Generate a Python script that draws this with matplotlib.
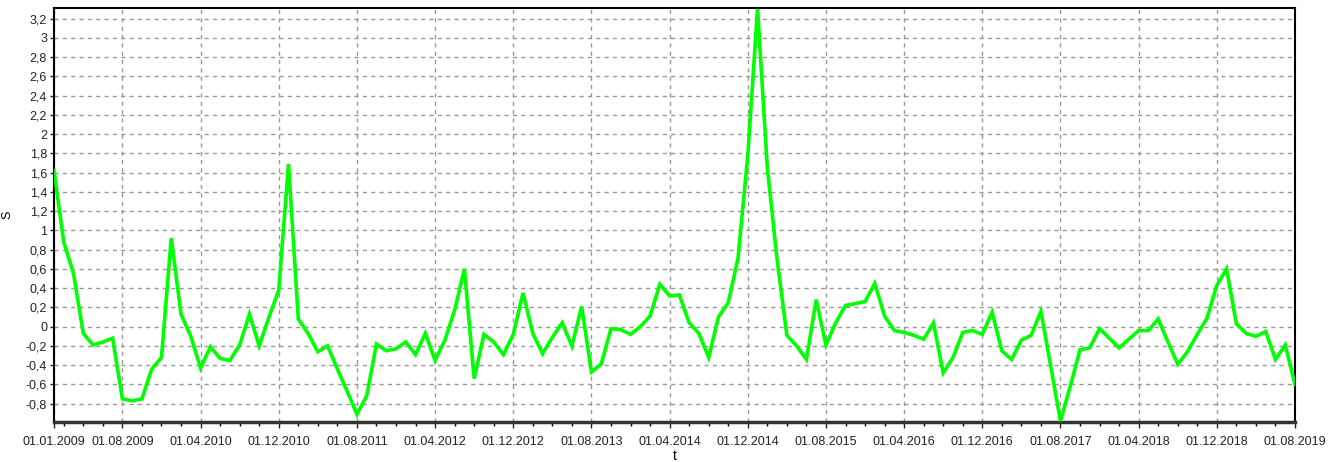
import matplotlib
matplotlib.use('Agg')
import matplotlib.pyplot as plt
import numpy as np
from matplotlib.ticker import FuncFormatter, FixedLocator

# monthly values, 01.01.2009 .. 01.08.2019
s_values = [
    1.62, 0.88, 0.55, -0.07, -0.19, -0.16, -0.12, -0.75, -0.77, -0.75, -0.44, -0.32,
    0.92, 0.13, -0.10, -0.43, -0.21, -0.33, -0.35, -0.19, 0.13, -0.20, 0.10, 0.38,
    1.69, 0.08, -0.07, -0.26, -0.20, -0.44, -0.67, -0.91, -0.72, -0.18, -0.25, -0.23,
    -0.16, -0.29, -0.07, -0.35, -0.14, 0.17, 0.60, -0.54, -0.08, -0.16, -0.29, -0.08,
    0.35, -0.07, -0.28, -0.11, 0.04, -0.20, 0.21, -0.47, -0.39, -0.02, -0.03, -0.08,
    0.00, 0.11, 0.44, 0.32, 0.33, 0.04, -0.07, -0.32, 0.10, 0.25, 0.71, 1.78,
    3.30, 1.65, 0.70, -0.09, -0.20, -0.34, 0.28, -0.19, 0.04, 0.22, 0.24, 0.26,
    0.45, 0.11, -0.04, -0.06, -0.09, -0.13, 0.04, -0.48, -0.32, -0.06, -0.04, -0.08,
    0.15, -0.25, -0.34, -0.14, -0.09, 0.16, -0.41, -0.98, -0.62, -0.24, -0.22, -0.02,
    -0.12, -0.22, -0.13, -0.04, -0.04, 0.08, -0.16, -0.39, -0.26, -0.08, 0.09, 0.43,
    0.60, 0.03, -0.07, -0.10, -0.05, -0.34, -0.19, -0.60,
]
tick_pos = [0, 7, 15, 23, 31, 39, 47, 55, 63, 71, 79, 87, 95, 103, 111, 119, 127]
tick_labels = ['01.01.2009', '01.08.2009', '01.04.2010', '01.12.2010', '01.08.2011',
               '01.04.2012', '01.12.2012', '01.08.2013', '01.04.2014', '01.12.2014',
               '01.08.2015', '01.04.2016', '01.12.2016', '01.08.2017', '01.04.2018',
               '01.12.2018', '01.08.2019']

plt.rcParams['font.family'] = ['Liberation Sans', 'DejaVu Sans']


def fmt_y(v, pos):
    v = round(v, 1)
    if abs(v) < 1e-9:
        return '0'
    return ('%g' % v).replace('.', ',')


x = np.arange(len(s_values))

fig = plt.figure(figsize=(13.37, 4.62), dpi=100)
ax = fig.add_axes([54 / 1337, 40 / 462, (1295 - 54) / 1337, (422 - 8) / 462])

ax.plot(x, s_values, color='#00ff00', linewidth=2.6, solid_joinstyle='miter', zorder=3)

ax.set_xlim(0, len(s_values) - 1)
ax.set_ylim(-0.99, 3.31)

ax.xaxis.set_major_locator(FixedLocator(tick_pos))
ax.set_xticklabels(tick_labels)
ax.xaxis.set_minor_locator(FixedLocator(list(range(1, len(s_values), 2))))
ax.yaxis.set_major_locator(FixedLocator(np.round(np.arange(-0.8, 3.21, 0.2), 1)))
ax.yaxis.set_major_formatter(FuncFormatter(fmt_y))

ax.tick_params(axis='both', labelsize=9, colors='#222222', length=4, width=1)
ax.tick_params(axis='x', which='minor', length=3, width=1)
ax.tick_params(axis='x', pad=6)
ax.tick_params(axis='y', pad=2, length=3)

ax.grid(True, which='major', color='#999999', linestyle=(0, (3, 3)), linewidth=1)

for side in ['left', 'top', 'right']:
    ax.spines[side].set_linewidth(1.5)
    ax.spines[side].set_color('black')
ax.spines['bottom'].set_linewidth(2.5)
ax.spines['bottom'].set_color('#333333')

ax.set_xlabel('t', fontsize=10, labelpad=1)
ax.set_ylabel('S', fontsize=9)
ax.yaxis.set_label_coords(-0.033, 0.5)

fig.savefig('out.png', dpi=100)
